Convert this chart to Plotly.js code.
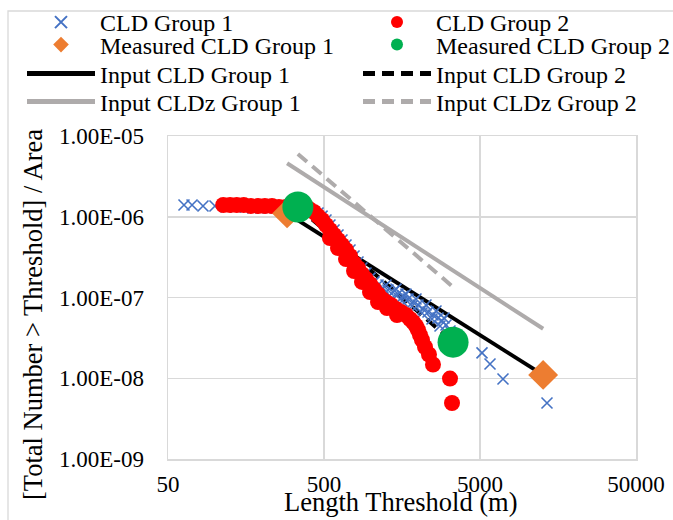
<!DOCTYPE html>
<html>
<head>
<meta charset="utf-8">
<script src="https://cdn.plot.ly/plotly-3.0.1.min.js"></script>
<style>html,body{margin:0;padding:0;background:#fff;}#chart{width:673px;height:520px;}</style>
</head>
<body>
<div id="chart"></div>
<script>
// ---- Data ----
var cld1Len = [63.3, 71.3, 83.8, 100, 118, 136, 156, 175, 197, 219, 243, 265, 290, 316, 346, 378, 407, 431, 458, 486, 515, 546, 580, 615, 652, 692, 734, 779, 826, 876, 929, 986, 1046, 1110, 1194, 1249, 1286, 1364, 1384, 1447, 1491, 1581, 1605, 1677, 1728, 1833, 1860, 1944, 2003, 2124, 2156, 2253, 2321, 2462, 2498, 2612, 2690, 2771, 2854, 2939, 3028, 3211, 3406, 3614, 5150, 5796, 7020, 13440];
var cld1Val = [1.398e-6, 1.398e-6, 1.358e-6, 1.358e-6, 1.320e-6, 1.320e-6, 1.320e-6, 1.283e-6, 1.283e-6, 1.283e-6, 1.283e-6, 1.247e-6, 1.247e-6, 1.247e-6, 1.212e-6, 1.212e-6, 1.178e-6, 1.145e-6, 1.113e-6, 1.02e-6, 9.12e-7, 7.90e-7, 6.85e-7, 5.94e-7, 5.15e-7, 4.47e-7, 3.88e-7, 3.27e-7, 2.75e-7, 2.32e-7, 2.01e-7, 1.74e-7, 1.56e-7, 1.43e-7, 1.31e-7, 1.43e-7, 1.24e-7, 9.86e-8, 1.17e-7, 1.27e-7, 1.10e-7, 9.05e-8, 1.04e-7, 1.10e-7, 9.58e-8, 7.85e-8, 8.80e-8, 9.58e-8, 8.07e-8, 6.43e-8, 7.20e-8, 8.07e-8, 6.61e-8, 5.42e-8, 6.07e-8, 6.81e-8, 5.57e-8, 4.44e-8, 5.12e-8, 5.57e-8, 4.57e-8, 3.85e-8, 3.24e-8, 2.81e-8, 2.06e-8, 1.50e-8, 9.8e-9, 4.94e-9];

var cld2Len = [113, 125, 138, 153, 170, 189, 209, 232, 257, 285, 312, 341, 372, 401, 431, 458, 486, 515, 546, 546, 580, 615, 615, 652, 692, 692, 734, 779, 779, 826, 876, 876, 929, 986, 986, 1046, 1110, 1110, 1177, 1249, 1267, 1344, 1447, 1469, 1558, 1677, 1779, 1860, 1944, 2003, 2062, 2124, 2220, 2355, 2498, 3211, 3308];
var cld2Val = [1.398e-6, 1.398e-6, 1.398e-6, 1.398e-6, 1.358e-6, 1.358e-6, 1.358e-6, 1.358e-6, 1.320e-6, 1.320e-6, 1.320e-6, 1.320e-6, 1.283e-6, 1.247e-6, 1.145e-6, 1.02e-6, 9.12e-7, 7.90e-7, 6.85e-7, 5.46e-7, 5.94e-7, 5.15e-7, 4.10e-7, 4.47e-7, 3.88e-7, 3.00e-7, 3.27e-7, 2.67e-7, 2.13e-7, 2.32e-7, 1.95e-7, 1.56e-7, 1.69e-7, 1.47e-7, 1.17e-7, 1.27e-7, 1.10e-7, 8.80e-8, 9.58e-8, 8.80e-8, 7.41e-8, 8.07e-8, 7.20e-8, 6.07e-8, 6.61e-8, 6.07e-8, 5.42e-8, 4.97e-8, 4.44e-8, 3.96e-8, 3.43e-8, 2.98e-8, 2.44e-8, 1.97e-8, 1.48e-8, 9.9e-9, 4.94e-9];

var measured1Len = [290, 12700];
var measured1Val = [1.1e-6, 1.1e-8];
var measured2Len = [340, 3360];
var measured2Val = [1.32e-6, 2.8e-8];

var inputCld1Len = [290, 12700];
var inputCld1Val = [1.1e-6, 1.1e-8];
var inputCld2Len = [340, 3360];
var inputCld2Val = [1.32e-6, 2.8e-8];
var inputCldz1Len = [290, 12700];
var inputCldz1Val = [4.6e-6, 4.1e-8];
var inputCldz2Len = [340, 3360];
var inputCldz2Val = [6.0e-6, 1.35e-7];

var xTickVals = [50, 500, 5000, 50000];
var xTickText = ['50', '500', '5000', '50000'];
var yTickVals = [1e-9, 1e-8, 1e-7, 1e-6, 1e-5];
var yTickText = ['1.00E-09', '1.00E-08', '1.00E-07', '1.00E-06', '1.00E-05'];
var xTitle = 'Length Threshold (m)';
var yTitle = '[Total Number > Threshold] / Area';

// ---- Layout constants ----
var W = 673, H = 520;
var M = {l: 168, r: 37, t: 136, b: 61, autoexpand: false};
var pw = W - M.l - M.r, ph = H - M.t - M.b;
function px2paperX(px) { return (px - M.l) / pw; }
function px2paperY(py) { return (H - M.b - py) / ph; }

var FONT = '"Liberation Serif", "Times New Roman", serif';
var GREY = '#AEABAB';

var traces = [
  {name: 'Input CLDz Group 1', x: inputCldz1Len, y: inputCldz1Val, mode: 'lines', legend: 'legend7',
   line: {color: GREY, width: 4}},
  {name: 'Input CLDz Group 2', x: inputCldz2Len, y: inputCldz2Val, mode: 'lines', legend: 'legend8',
   line: {color: GREY, width: 4, dash: '12px,7px'}},
  {name: 'Input CLD Group 1', x: inputCld1Len, y: inputCld1Val, mode: 'lines', legend: 'legend5',
   line: {color: '#000000', width: 4}},
  {name: 'Input CLD Group 2', x: inputCld2Len, y: inputCld2Val, mode: 'lines', legend: 'legend6',
   line: {color: '#000000', width: 4, dash: '12px,7px'}},
  {name: 'CLD Group 1', x: cld1Len, y: cld1Val, mode: 'markers', legend: 'legend',
   marker: {symbol: 'x-thin-open', size: 11, color: '#4472C4', line: {color: '#4472C4', width: 1.6}}},
  {name: 'CLD Group 2', x: cld2Len, y: cld2Val, mode: 'markers', legend: 'legend2',
   marker: {symbol: 'circle', size: 16, color: '#FF0000'}},
  {name: 'Measured CLD Group 1', x: measured1Len, y: measured1Val, mode: 'markers', legend: 'legend3',
   marker: {symbol: 'diamond', size: 23, color: '#ED7D31'}},
  {name: 'Measured CLD Group 2', x: measured2Len, y: measured2Val, mode: 'markers', legend: 'legend4',
   marker: {symbol: 'circle', size: 31, color: '#00B050'}}
];

// one legend per entry so that the 2-column grid matches the reference exactly
function legendDef(xpx, topPx) {
  return {
    orientation: 'v', xref: 'container', yref: 'container', xanchor: 'left', yanchor: 'top',
    x: xpx / W, y: 1 - topPx / H,
    font: {family: FONT, size: 24, color: '#000000'}, itemsizing: 'constant', itemwidth: 68,
    bgcolor: 'rgba(0,0,0,0)', borderwidth: 0
  };
}
var colX = [22, 358];
var rowTop = [-7.5, 22.5, 51.5, 79.5];

var layout = {
  width: W, height: H,
  margin: M,
  paper_bgcolor: '#fff', plot_bgcolor: '#fff',
  font: {family: FONT, size: 23, color: '#000'},
  showlegend: true,
  legend: legendDef(colX[0], rowTop[0]),
  legend2: legendDef(colX[1], rowTop[0]),
  legend3: legendDef(colX[0], rowTop[1]),
  legend4: legendDef(colX[1], rowTop[1]),
  legend5: legendDef(colX[0], rowTop[2]),
  legend6: legendDef(colX[1], rowTop[2]),
  legend7: legendDef(colX[0], rowTop[3]),
  legend8: legendDef(colX[1], rowTop[3]),
  xaxis: {
    type: 'log', range: [Math.log10(50), Math.log10(50000)], automargin: false,
    tickmode: 'array', tickvals: xTickVals, ticktext: xTickText,
    showgrid: true, gridcolor: '#D9D9D9', gridwidth: 1.5,
    showline: true, linecolor: '#D9D9D9', linewidth: 1.5, mirror: true,
    ticks: '', ticklabelstandoff: 4, zeroline: false,
    tickfont: {family: FONT, size: 23, color: '#000'}
  },
  yaxis: {
    type: 'log', range: [-9, -5], automargin: false,
    tickmode: 'array', tickvals: yTickVals, ticktext: yTickText,
    showgrid: true, gridcolor: '#D9D9D9', gridwidth: 1.5,
    showline: true, linecolor: '#D9D9D9', linewidth: 1.5, mirror: true,
    ticks: '', ticklabelstandoff: 18, zeroline: false,
    tickfont: {family: FONT, size: 23, color: '#000'}
  },
  annotations: [
    {text: xTitle, xref: 'paper', yref: 'paper', x: px2paperX(401), y: px2paperY(502),
     xanchor: 'center', yanchor: 'middle', showarrow: false,
     font: {family: FONT, size: 26.5, color: '#000'}},
    {text: yTitle, xref: 'paper', yref: 'paper', x: px2paperX(33), y: px2paperY(315),
     xanchor: 'center', yanchor: 'middle', showarrow: false, textangle: -90,
     font: {family: FONT, size: 26.5, color: '#000'}}
  ],
  shapes: [
    {type: 'rect', xref: 'paper', yref: 'paper', layer: 'below',
     x0: px2paperX(8), x1: px2paperX(690), y0: px2paperY(540), y1: px2paperY(11),
     line: {color: '#D9D9D9', width: 1.3}, fillcolor: 'rgba(0,0,0,0)'}
  ]
};

Plotly.newPlot('chart', traces, layout, {displayModeBar: false, staticPlot: true});
</script>
</body>
</html>
